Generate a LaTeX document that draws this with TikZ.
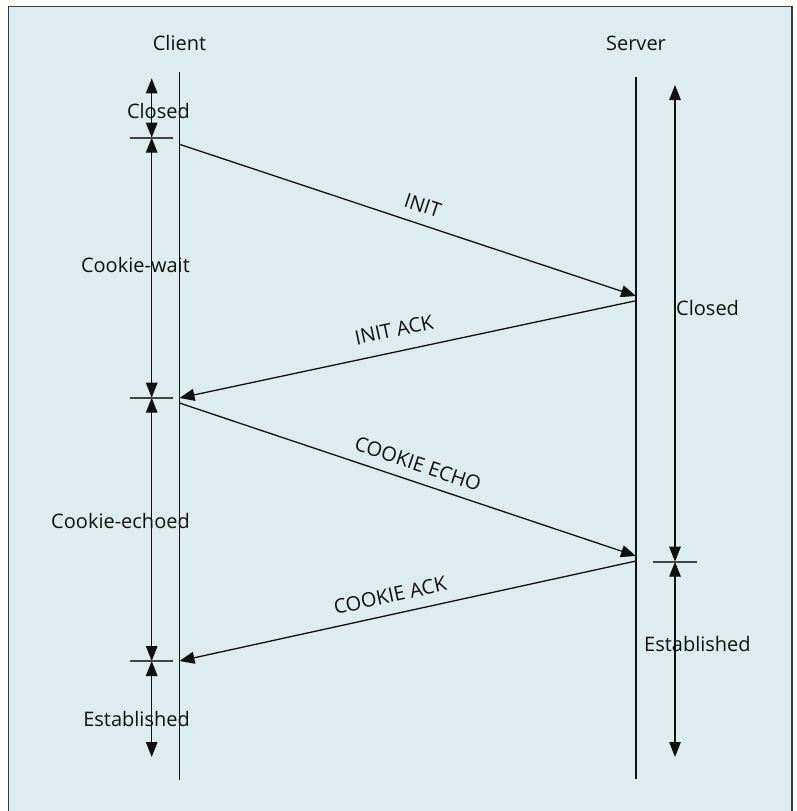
\documentclass[tikz,border=0pt]{standalone}
\usepackage{fontspec}
\setmainfont{Open Sans}
\usetikzlibrary{arrows.meta}
\definecolor{bgblue}{HTML}{DDECEF}
\definecolor{framegray}{HTML}{3A3A3A}
\definecolor{tickgray}{HTML}{444444}
\definecolor{ink}{HTML}{111111}
\begin{document}
\begin{tikzpicture}[x=1pt,y=-1pt,
  lbl/.style={font=\fontsize{20}{24}\selectfont, inner sep=0pt, text=ink},
  lifeline/.style={line width=1.3pt, ink},
  msg/.style={line width=1.3pt, ink, -{Triangle[length=15pt,width=12pt]}},
  span/.style={line width=1.3pt, ink, {Triangle[length=15pt,width=11.5pt]}-{Triangle[length=15pt,width=11.5pt]}},
  tickmark/.style={line width=2pt, tickgray}]
\useasboundingbox (0,0) rectangle (796,811);
\fill[white] (0,0) rectangle (796,811);
\fill[bgblue] (8.5,6.5) rectangle (792,811);
\draw[framegray, line width=1.5pt] (8.5,811) -- (8.5,6.5) -- (792,6.5) -- (792,811);

% lifelines
\coordinate (ctop) at (179.5,71.5);
\coordinate (cbot) at (179.5,780);
\coordinate (stop) at (636,77);
\coordinate (sbot) at (636,779);
\draw[lifeline] (ctop) -- (cbot);
\draw[lifeline] (stop) -- (sbot);
\node[lbl, anchor=base] (client) at (179.5,50) {Client};
\node[lbl, anchor=base] (server) at (636,50.5) {Server};

% client state spans
\coordinate (c0) at (151.7,78.3);
\coordinate (c1) at (151.7,137.7);
\coordinate (c2) at (151.7,397.7);
\coordinate (c3) at (151.7,661);
\coordinate (c4) at (151.7,757);
\draw[span] (c0) -- (c1);
\draw[span] (c1) -- (c2);
\draw[span] (c2) -- (c3);
\draw[span] (c3) -- (c4);
\foreach \t in {c1,c2,c3}
  \draw[tickmark] ([xshift=-21.7pt]\t) -- ([xshift=21.3pt]\t);

% server state spans
\coordinate (s0) at (675,85);
\coordinate (s1) at (675,561.7);
\coordinate (s2) at (675,757);
\draw[span] (s0) -- (s1);
\draw[span] (s1) -- (s2);
\draw[tickmark] ([xshift=-22pt]s1) -- ([xshift=22pt]s1);

% state labels
\node[lbl, anchor=base east] (cclosed) at (190,118) {Closed};
\node[lbl, anchor=base east] (cwait) at (190,272) {Cookie-wait};
\node[lbl, anchor=base east] (cechoed) at (190,528) {Cookie-echoed};
\node[lbl, anchor=base east] (cest) at (190,726.7) {Established};
\node[lbl, anchor=base west] (sclosed) at (676,315) {Closed};
\node[lbl, anchor=base west] (sest) at (644,651) {Established};

% messages
\coordinate (m1a) at (179.5,144.3);
\coordinate (m1b) at (636,296);
\coordinate (m2a) at (636,300.7);
\coordinate (m2b) at (179.5,398);
\coordinate (m3a) at (179.5,403);
\coordinate (m3b) at (636,556);
\coordinate (m4a) at (636,561);
\coordinate (m4b) at (179.5,661);
\draw[msg] (m1a) -- node[lbl, sloped, above=11pt, pos=0.52] (linit) {INIT} (m1b);
\draw[msg] (m2a) -- node[lbl, sloped, above=14pt, pos=0.52] (linitack) {INIT ACK} (m2b);
\draw[msg] (m3a) -- node[lbl, sloped, above=10pt, pos=0.51] (lecho) {COOKIE ECHO} (m3b);
\draw[msg] (m4a) -- node[lbl, sloped, above=11pt, pos=0.53] (lack) {COOKIE ACK} (m4b);
\end{tikzpicture}
\end{document}
